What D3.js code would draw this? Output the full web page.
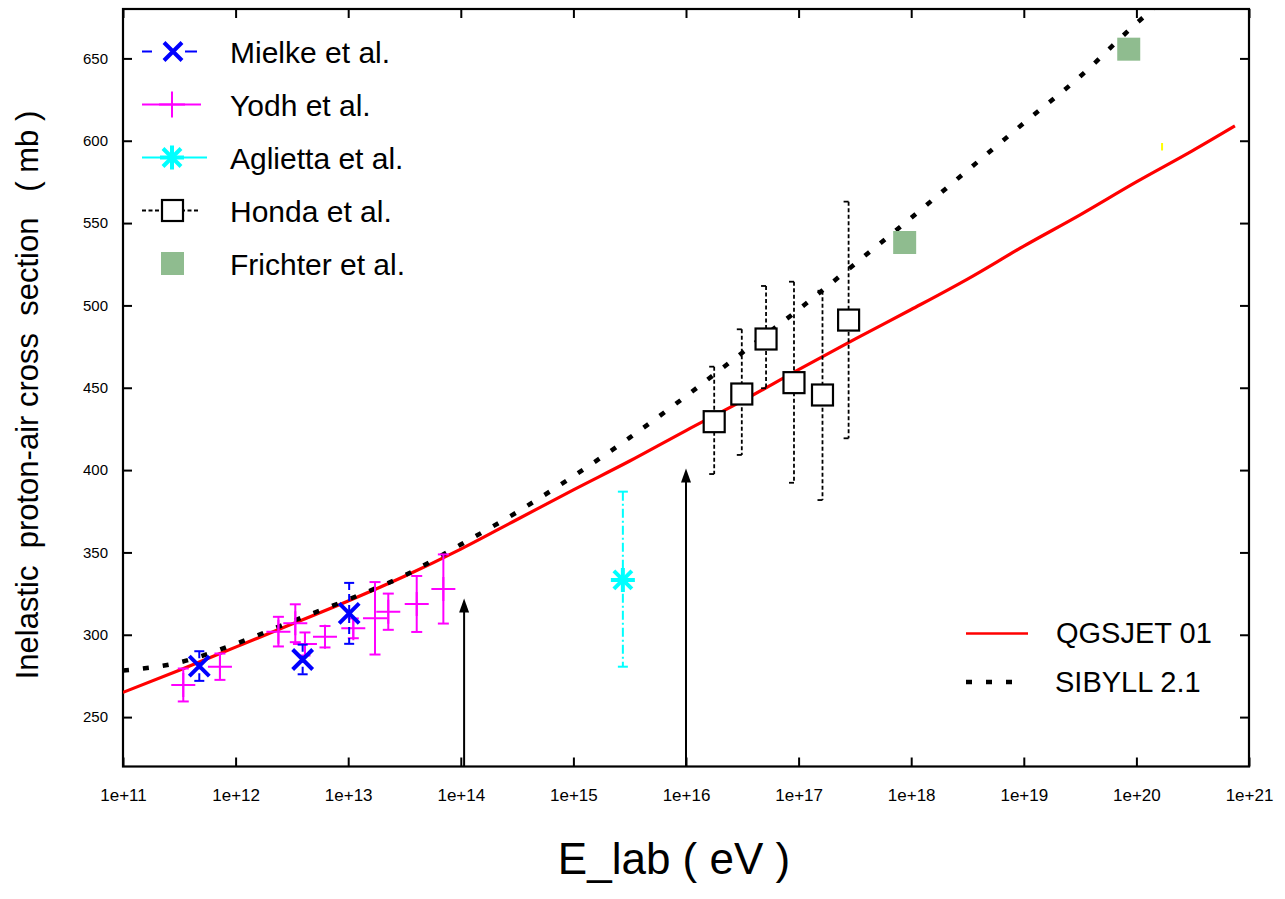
<!DOCTYPE html>
<html>
<head>
<meta charset="utf-8">
<script src="https://cdn.jsdelivr.net/npm/d3@7"></script>
<style>
  html, body { margin: 0; padding: 0; background: #ffffff; }
  svg { display: block; font-family: "Liberation Sans", Arial, Helvetica, sans-serif; }
</style>
</head>
<body>
<svg id="chart" width="1285" height="899"></svg>
<script>
// ---- axis ticks ----
const xTickValues = [1e11, 1e12, 1e13, 1e14, 1e15, 1e16, 1e17, 1e18, 1e19, 1e20, 1e21];
const xTickLabels = ["1e+11", "1e+12", "1e+13", "1e+14", "1e+15", "1e+16", "1e+17", "1e+18", "1e+19", "1e+20", "1e+21"];
const yTickValues = [250, 300, 350, 400, 450, 500, 550, 600, 650];

// ---- model curves (log10 of lab energy, cross section in mb) ----
const qgsjetLogE = [11, 11.5, 12, 12.5, 13, 13.5, 14, 14.5, 15, 15.5, 16, 16.5, 17, 17.5, 18, 18.5, 19, 19.5, 20, 20.5, 20.875];
const qgsjetSigma = [265, 278.5, 292.5, 306.5, 320.5, 335.5, 352, 370, 388, 405.5, 424, 442, 461, 479.5, 497.5, 516, 536, 555, 575, 594, 609];
const sibyllLogE = [11, 11.5, 12, 12.5, 13, 13.5, 14, 14.5, 15, 15.5, 16, 16.5, 17, 17.5, 18, 18.5, 19, 19.5, 20, 20.25];
const sibyllSigma = [278.3, 283.2, 294.5, 308.1, 321.4, 336, 354.8, 374.5, 396.3, 419.7, 444.9, 471.3, 497.5, 525.2, 553.2, 582, 610.7, 639, 671.3, 686];

// ---- measurements ----
const mielkeE = [4.76e11, 3.94e12, 1.02e13];
const mielkeSigma = [281, 285, 313];
const mielkeErr = [9, 9, 18.5];

const yodhE = [3.43e11, 7.26e11, 2.40e12, 3.39e12, 4.13e12, 6.22e12, 1.11e13, 1.73e13, 2.27e13, 4.06e13, 7.0e13];
const yodhSigma = [269.5, 280.6, 301.9, 307, 294.4, 298.8, 303.9, 310, 314, 318.7, 327.8];
const yodhErr = [10, 8, 9, 11.5, 7, 6.5, 6, 22, 11, 17, 21];

const agliettaE = [2.75e15];
const agliettaSigma = [333.3];
const agliettaHigh = [386.9];
const agliettaLow = [280.6];

const hondaE = [1.78e16, 3.13e16, 5.14e16, 9.1e16, 1.63e17, 2.78e17];
const hondaSigma = [429.4, 446.2, 479.6, 453.1, 445.6, 491.1];
const hondaHigh = [462.8, 485.5, 511.8, 514.4, 508.9, 563.0];
const hondaLow = [397.6, 409.2, 449.7, 392.3, 381.8, 419.3];

const frichterE = [8.75e17, 8.55e19];
const frichterSigma = [538.2, 655.6];

const extraE = [1.69e20];
const extraHigh = [598.7];
const extraLow = [594.1];

// ---- energy markers (vertical arrows) ----
const arrowE = [1.07e14, 1e16];
const arrowTop = [322, 401];

// ---- legend ----
const dataLegend = ["Mielke et al.", "Yodh et al.", "Aglietta et al.", "Honda et al.", "Frichter et al."];
const modelLegend = ["QGSJET 01", "SIBYLL 2.1"];

const BLUE = "#0000ff", MAGENTA = "#ff00ff", CYAN = "#00ffff", GREEN = "#8fbc8f", RED = "#ff0000";

const svg = d3.select("#chart");
const X0 = 123, X1 = 1249, Y0 = 766.5, Y1 = 9;
const x = d3.scaleLog().domain([1e11, 1e21]).range([X0, X1]);
const y = d3.scaleLinear().domain([220, 680]).range([Y0, Y1]);

svg.append("defs").append("clipPath").attr("id", "plotClip")
  .append("rect").attr("x", X0).attr("y", Y1).attr("width", X1 - X0).attr("height", Y0 - Y1);

// ---- axes with inward ticks on all four sides ----
const tickLen = 9;
const fmtX = (d, i) => xTickLabels[i];
svg.append("g").attr("transform", `translate(0,${Y0})`)
  .call(d3.axisBottom(x).tickValues(xTickValues).tickFormat(fmtX).tickSizeInner(-tickLen).tickSizeOuter(0).tickPadding(22))
  .call(g => g.select(".domain").remove())
  .call(g => g.selectAll("text").attr("font-size", 17).attr("fill", "#000").attr("font-family", "Liberation Sans, Arial, sans-serif"));
svg.append("g").attr("transform", `translate(0,${Y1})`)
  .call(d3.axisTop(x).tickValues(xTickValues).tickFormat("").tickSizeInner(-tickLen).tickSizeOuter(0))
  .call(g => g.select(".domain").remove());
svg.append("g").attr("transform", `translate(${X0},0)`)
  .call(d3.axisLeft(y).tickValues(yTickValues).tickFormat(d3.format("d")).tickSizeInner(-tickLen).tickSizeOuter(0).tickPadding(15))
  .call(g => g.select(".domain").remove())
  .call(g => g.selectAll("text").attr("font-size", 15).attr("fill", "#000").attr("font-family", "Liberation Sans, Arial, sans-serif"));
svg.append("g").attr("transform", `translate(${X1},0)`)
  .call(d3.axisRight(y).tickValues(yTickValues).tickFormat("").tickSizeInner(-tickLen).tickSizeOuter(0))
  .call(g => g.select(".domain").remove());
svg.selectAll(".tick line").attr("stroke", "#000").attr("stroke-width", 2);

svg.append("rect").attr("x", X0).attr("y", Y1).attr("width", X1 - X0).attr("height", Y0 - Y1)
  .attr("fill", "none").attr("stroke", "#000").attr("stroke-width", 2.2);

// ---- axis titles ----
svg.append("text").attr("x", 674).attr("y", 874).attr("text-anchor", "middle")
  .attr("font-size", 44).attr("fill", "#000").text("E_lab ( eV )");
svg.append("text").attr("transform", "translate(38,395) rotate(-90)").attr("text-anchor", "middle")
  .attr("font-size", 31).attr("fill", "#000").attr("xml:space", "preserve")
  .text("Inelastic  proton-air cross  section   ( mb )");

const plot = svg.append("g").attr("clip-path", "url(#plotClip)");

// ---- arrows ----
arrowE.forEach((e, i) => {
  const ax = x(e), top = y(arrowTop[i]);
  plot.append("line").attr("x1", ax).attr("x2", ax).attr("y1", Y0).attr("y2", top + 6)
    .attr("stroke", "#000").attr("stroke-width", 2);
  plot.append("path").attr("d", `M${ax},${top} L${ax - 5},${top + 14} L${ax + 5},${top + 14} Z`).attr("fill", "#000");
});

// ---- model curves ----
const line = d3.line().x(d => x(Math.pow(10, d[0]))).y(d => y(d[1])).curve(d3.curveMonotoneX);
plot.append("path").datum(d3.zip(qgsjetLogE, qgsjetSigma)).attr("d", line)
  .attr("fill", "none").attr("stroke", RED).attr("stroke-width", 3.2);
plot.append("path").datum(d3.zip(sibyllLogE, sibyllSigma)).attr("d", line)
  .attr("fill", "none").attr("stroke", "#000").attr("stroke-width", 4.5).attr("stroke-dasharray", "6 14");

// ---- marker helpers ----
function crossX(g, cx, cy, r, color, w) {
  g.append("path").attr("d", `M${cx - r},${cy - r}L${cx + r},${cy + r}M${cx - r},${cy + r}L${cx + r},${cy - r}`)
    .attr("stroke", color).attr("stroke-width", w).attr("fill", "none");
}
function plus(g, cx, cy, r, color, w) {
  g.append("path").attr("d", `M${cx - r},${cy}L${cx + r},${cy}M${cx},${cy - r}L${cx},${cy + r}`)
    .attr("stroke", color).attr("stroke-width", w).attr("fill", "none");
}
function errBar(g, cx, yHi, yLo, cap, color, w, dash, capLeftOnly) {
  g.append("line").attr("x1", cx).attr("x2", cx).attr("y1", yHi).attr("y2", yLo)
    .attr("stroke", color).attr("stroke-width", w).attr("stroke-dasharray", dash || null);
  [yHi, yLo].forEach(yy => g.append("line")
    .attr("x1", cx - cap).attr("x2", capLeftOnly ? cx : cx + cap).attr("y1", yy).attr("y2", yy)
    .attr("stroke", color).attr("stroke-width", w));
}

// Yodh et al.
yodhE.forEach((e, i) => {
  const cx = x(e), cy = y(yodhSigma[i]);
  errBar(plot, cx, y(yodhSigma[i] + yodhErr[i]), y(yodhSigma[i] - yodhErr[i]), 5.5, MAGENTA, 2);
  plus(plot, cx, cy, 12, MAGENTA, 2);
});
// Mielke et al.
mielkeE.forEach((e, i) => {
  const cx = x(e), cy = y(mielkeSigma[i]);
  errBar(plot, cx, y(mielkeSigma[i] + mielkeErr[i]), y(mielkeSigma[i] - mielkeErr[i]), 5, BLUE, 2, "7 4");
  crossX(plot, cx, cy, 10, BLUE, 4);
});
// Aglietta et al.
agliettaE.forEach((e, i) => {
  const cx = x(e), cy = y(agliettaSigma[i]);
  errBar(plot, cx, y(agliettaHigh[i]), y(agliettaLow[i]), 5, CYAN, 2, "9 3 2 3");
  crossX(plot, cx, cy, 9, CYAN, 4);
  plus(plot, cx, cy, 12, CYAN, 4);
});
// Honda et al.
hondaE.forEach((e, i) => {
  const cx = x(e), cy = y(hondaSigma[i]);
  errBar(plot, cx, y(hondaHigh[i]), y(hondaLow[i]), 5, "#000", 1.8, "4 2.5", true);
  plot.append("rect").attr("x", cx - 10.5).attr("y", cy - 10.5).attr("width", 21).attr("height", 21)
    .attr("fill", "#fff").attr("stroke", "#000").attr("stroke-width", 2.2);
});
// Frichter et al.
frichterE.forEach((e, i) => {
  const cx = x(e), cy = y(frichterSigma[i]);
  plot.append("rect").attr("x", cx - 11.5).attr("y", cy - 11.5).attr("width", 23).attr("height", 23)
    .attr("fill", GREEN);
});
// short yellow segment
extraE.forEach((e, i) => {
  plot.append("line").attr("x1", x(e)).attr("x2", x(e)).attr("y1", y(extraHigh[i])).attr("y2", y(extraLow[i]))
    .attr("stroke", "#ffff00").attr("stroke-width", 2);
});

// ---- data legend (top left) ----
const leg = svg.append("g");
const rowY = i => 51.5 + i * 53;
dataLegend.forEach((label, i) => {
  const cy = rowY(i);
  leg.append("text").attr("x", 230).attr("y", cy + 11).attr("font-size", 30).attr("fill", "#000").text(label);
});
// Mielke sample
leg.append("line").attr("x1", 142).attr("x2", 197).attr("y1", rowY(0)).attr("y2", rowY(0))
  .attr("stroke", BLUE).attr("stroke-width", 2).attr("stroke-dasharray", "10 33 12");
crossX(leg, 173, rowY(0), 9, BLUE, 4);
// Yodh sample
leg.append("line").attr("x1", 142).attr("x2", 201).attr("y1", rowY(1)).attr("y2", rowY(1))
  .attr("stroke", MAGENTA).attr("stroke-width", 2);
plus(leg, 172, rowY(1), 13, MAGENTA, 2);
// Aglietta sample
leg.append("line").attr("x1", 142).attr("x2", 207).attr("y1", rowY(2)).attr("y2", rowY(2))
  .attr("stroke", CYAN).attr("stroke-width", 2);
crossX(leg, 172, rowY(2), 9, CYAN, 4);
plus(leg, 172, rowY(2), 12, CYAN, 4);
// Honda sample
leg.append("line").attr("x1", 142).attr("x2", 200).attr("y1", rowY(3)).attr("y2", rowY(3))
  .attr("stroke", "#000").attr("stroke-width", 1.8).attr("stroke-dasharray", "4 2.5");
leg.append("rect").attr("x", 162).attr("y", rowY(3) - 10.5).attr("width", 21).attr("height", 21)
  .attr("fill", "#fff").attr("stroke", "#000").attr("stroke-width", 2.2);
// Frichter sample
leg.append("rect").attr("x", 161).attr("y", rowY(4) - 11.5).attr("width", 23).attr("height", 23).attr("fill", GREEN);

// ---- model legend (bottom right) ----
leg.append("line").attr("x1", 966).attr("x2", 1028).attr("y1", 633.5).attr("y2", 633.5)
  .attr("stroke", RED).attr("stroke-width", 2.4);
leg.append("text").attr("x", 1056).attr("y", 643).attr("font-size", 29).attr("fill", "#000").text(modelLegend[0]);
leg.append("line").attr("x1", 966).attr("x2", 1016).attr("y1", 682).attr("y2", 682)
  .attr("stroke", "#000").attr("stroke-width", 4.5).attr("stroke-dasharray", "6 14");
leg.append("text").attr("x", 1055).attr("y", 692).attr("font-size", 29).attr("fill", "#000").text(modelLegend[1]);
</script>
</body>
</html>
